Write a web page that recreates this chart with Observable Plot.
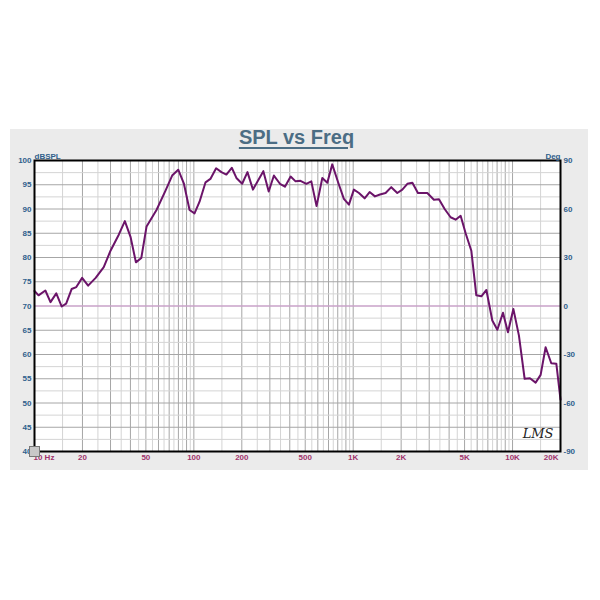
<!DOCTYPE html>
<html><head><meta charset="utf-8">
<script src="https://cdn.jsdelivr.net/npm/d3@7"></script>
<script src="https://cdn.jsdelivr.net/npm/@observablehq/plot@0.6"></script>
<style>
body{margin:0;background:#fff;font-family:"Liberation Sans",Arial,sans-serif;}
#panel{position:absolute;left:10px;top:129px;width:578px;height:341px;background:#ebebeb;}
#title{position:absolute;left:0;top:126px;width:593px;text-align:center;font:bold 20px "Liberation Sans",Arial,sans-serif;color:#4b6d84;text-decoration:underline;text-decoration-thickness:2px;text-underline-offset:3px;}
#icon{position:absolute;left:29px;top:446px;width:9px;height:9px;border:1px solid #777;background:#c8c8c8;z-index:2;}
</style></head>
<body>
<div id="panel"></div>
<div id="title">SPL vs Freq</div>
<script>
const freq = [10,10.6,11.7,12.6,13.7,14.8,15.8,17.1,18.3,19.9,
21.7,24.2,27.2,30,33.8,36.9,40.1,43.3,46.8,50.5,
58.3,66.4,73.1,79.8,86.5,94,101,108.6,118.4,127,
138,149,160,173,185,201,217,235,254,273,
295,318,347,373,405,435,467,508,546,589,
640,688,739,806,874,940,1010,1087,1180,1268,
1370,1473,1597,1734,1891,2034,2187,2352,2549,2918,
3211,3454,3750,4087,4393,4724,5077,5513,5925,6374,
6853,7465,8031,8710,9360,10120,10970,11910,12860,13960,
15010,16130,17500,18830,20000];
const spl = [73.1,72.2,73.2,70.8,72.6,69.9,70.5,73.5,73.9,75.8,
74.2,75.8,78.0,81.4,84.7,87.5,84.2,79.0,79.9,86.4,
89.8,93.8,96.9,98.1,95.3,89.8,89.1,91.5,95.5,96.2,
98.4,97.6,97.1,98.5,96.4,95.2,97.6,94.0,96.0,97.8,
93.6,96.9,95.2,94.6,96.7,95.7,95.8,95.2,95.7,90.6,
96.4,95.4,99.2,95.4,92.1,90.9,94.0,93.3,92.2,93.5,
92.6,93.0,93.3,94.5,93.3,94.0,95.2,95.4,93.3,93.3,
91.9,92.0,90.0,88.3,87.8,88.6,85.0,81.4,72.2,72.0,
73.3,67.0,65.1,68.6,64.6,69.4,63.9,55.0,55.1,54.2,
55.8,61.5,58.2,58.1,50.7];

const xTickVals = [10,20,50,100,200,500,1000,2000,5000,10000,20000];
const xTickLabels = ["10 Hz","20","50","100","200","500","1K","2K","5K","10K","20K"];
const yTicks = [40,45,50,55,60,65,70,75,80,85,90,95,100];
const yMinorGrid = [42.5,47.5,52.5,57.5,62.5,67.5,72.5,77.5,82.5,87.5,92.5,97.5];
const degTicks = [-90,-60,-30,0,30,60,90];
const decades = [10,100,1000,10000];
const majorMult = [1,2,3,4,5,6,7,8,9];
const minorMult = [1.5,2.5,3.5,4.5,5.5,6.5,7.5,8.5,9.5];

const vMajor = decades.flatMap(d => majorMult.map(m => m*d)).filter(v => v > 10 && v < 20000);
const vMinor = decades.flatMap(d => minorMult.map(m => m*d)).filter(v => v > 10 && v < 20000);

const data = freq.map((f,i) => ({f, db: spl[i]}));
const degToDb = d => 70 + d/3;

const axisColor = "#2f5f8c";
const xColor = "#a0336c";
const n = xTickVals.length;

const chart = Plot.plot({
  width: 582, height: 341,
  marginLeft: 26, marginRight: 30, marginTop: 31, marginBottom: 19,
  style: {background: "transparent", fontFamily: "'Liberation Sans', Arial, sans-serif", fontSize: "8px", fontWeight: "bold", overflow: "visible"},
  x: {type: "log", domain: [10, 20000], axis: null},
  y: {domain: [40, 100], axis: null},
  marks: [
    Plot.frame({fill: "white"}),
    Plot.ruleX(vMinor, {stroke: "#d4d4d4", strokeWidth: 1}),
    Plot.ruleX(vMajor, {stroke: "#a6a6a6", strokeWidth: 1}),
    Plot.ruleY(yMinorGrid, {stroke: "#d4d4d4", strokeWidth: 1}),
    Plot.ruleY(yTicks, {stroke: "#a6a6a6", strokeWidth: 1}),
    Plot.ruleY([degToDb(0)], {stroke: "#d9a0d9", strokeWidth: 1.2}),
    Plot.line(data, {x: "f", y: "db", stroke: "#6b1469", strokeWidth: 2, curve: "linear"}),
    Plot.frame({stroke: "black", strokeWidth: 2}),
    Plot.axisY(yTicks, {anchor: "left", tickSize: 0, tickPadding: 3, color: axisColor, label: null, fontSize: 8, fontWeight: "bold"}),
    Plot.axisY(degTicks.map(degToDb), {anchor: "right", tickSize: 0, tickPadding: 3, color: axisColor, label: null, tickFormat: v => String(Math.round((v-70)*3)), fontSize: 8, fontWeight: "bold"}),
    Plot.text(["dBSPL"], {frameAnchor: "top-left", textAnchor: "start", dy: -7, fill: axisColor, fontSize: 8, fontWeight: "bold"}),
    Plot.text(["Deg"], {frameAnchor: "top-right", textAnchor: "end", dy: -7, fill: axisColor, fontSize: 8, fontWeight: "bold"}),
    Plot.text(xTickVals.slice(1, n-1), {x: d => d, text: xTickLabels.slice(1, n-1), frameAnchor: "bottom", dy: 8, fill: xColor, fontSize: 8, fontWeight: "bold"}),
    Plot.text(xTickVals.slice(0,1), {x: d => d, text: xTickLabels.slice(0,1), frameAnchor: "bottom", textAnchor: "start", dx: -1, dy: 8, fill: xColor, fontSize: 8, fontWeight: "bold"}),
    Plot.text(xTickVals.slice(n-1), {x: d => d, text: xTickLabels.slice(n-1), frameAnchor: "bottom", textAnchor: "end", dx: -2, dy: 8, fill: xColor, fontSize: 8, fontWeight: "bold"}),
    Plot.text(["LMS"], {frameAnchor: "bottom-right", textAnchor: "end", dx: -7, dy: -14, fill: "#222", fontSize: 13, fontStyle: "italic", fontWeight: "normal", fontFamily: "'DejaVu Serif', serif"})
  ]
});
chart.style.position = "absolute";
chart.style.left = "8px";
chart.style.top = "129px";
document.body.appendChild(chart);
const icon = document.createElement("div");
icon.id = "icon";
document.body.appendChild(icon);
</script>
</body></html>
